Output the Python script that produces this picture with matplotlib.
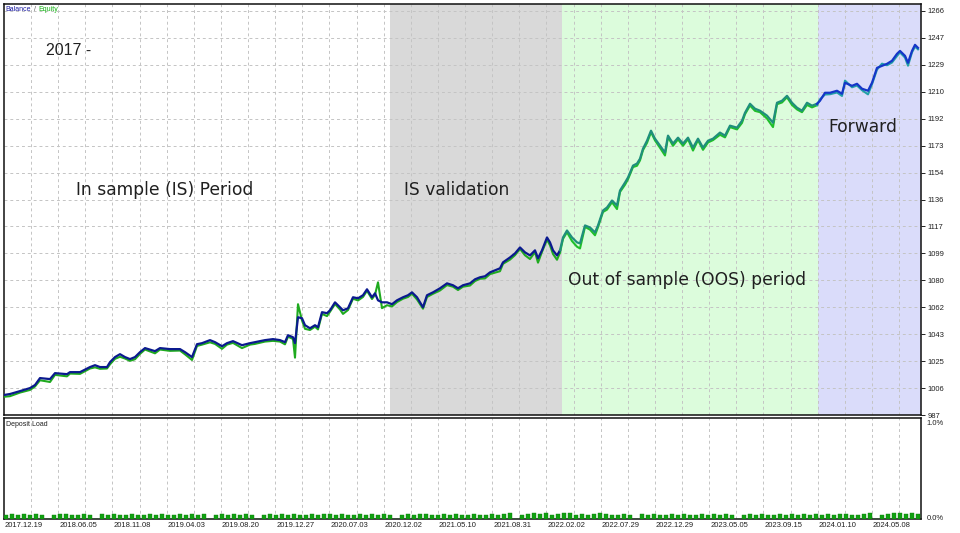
import numpy as np
import matplotlib
matplotlib.use("Agg")
import matplotlib.pyplot as plt
from matplotlib.transforms import ScaledTranslation

# balance curve (x = trade number)
trade_no = [0, 6, 16, 26, 31, 36, 46, 51, 63, 66,
            76, 86, 91, 96, 103, 106, 111, 116, 121, 126,
            131, 136, 141, 151, 156, 166, 176, 181, 188, 193,
            198, 206, 211, 218, 223, 229, 238, 246, 251, 261,
            269, 276, 281, 284, 289, 291, 294, 298, 301, 306,
            311, 314, 318, 323, 326, 331, 336, 339, 344, 349,
            354, 359, 363, 368, 371, 374, 378, 383, 388, 393,
            399, 404, 408, 413, 419, 423, 429, 436, 443, 449,
            454, 459, 466, 471, 476, 481, 486, 496, 499, 506,
            511, 516, 521, 526, 531, 534, 538, 543, 546, 549,
            553, 556, 559, 563, 568, 573, 576, 581, 586, 591,
            594, 599, 603, 608, 613, 616, 621, 624, 629, 633,
            636, 639, 643, 647, 651, 656, 661, 664, 669, 674,
            679, 684, 689, 694, 699, 704, 709, 716, 721, 726,
            733, 738, 741, 746, 751, 756, 763, 769, 773, 778,
            783, 788, 793, 798, 803, 808, 813, 816, 821, 826,
            833, 838, 841, 848, 853, 858, 864, 868, 873, 878,
            883, 888, 893, 896, 901, 904, 908, 911, 914]

balance = [1000.8, 1001.5, 1003.5, 1005.6, 1007.7, 1012.5, 1011.8, 1015.9, 1015.2, 1016.6,
           1016.6, 1020.1, 1021.4, 1020.1, 1020.1, 1023.5, 1027.0, 1029.0, 1027.0, 1025.6,
           1027.0, 1030.4, 1033.2, 1031.1, 1033.2, 1032.5, 1032.5, 1030.4, 1027.0, 1035.9,
           1036.6, 1038.7, 1037.3, 1034.5, 1036.6, 1038.0, 1035.2, 1036.6, 1037.3, 1038.7,
           1039.4, 1038.7, 1037.3, 1042.1, 1040.7, 1036.6, 1054.5, 1053.8, 1049.0, 1046.9,
           1049.0, 1047.6, 1058.0, 1057.3, 1059.3, 1064.8, 1061.4, 1059.3, 1060.7, 1068.3,
           1067.6, 1069.7, 1073.8, 1068.3, 1071.0, 1066.2, 1064.8, 1064.8, 1063.5, 1066.2,
           1068.3, 1069.7, 1071.7, 1068.3, 1061.4, 1069.7, 1071.7, 1074.5, 1077.9, 1076.6,
           1074.5, 1076.6, 1077.9, 1080.7, 1082.1, 1082.8, 1085.5, 1088.3, 1092.4, 1095.8,
           1098.6, 1102.7, 1099.3, 1097.2, 1100.7, 1095.2, 1100.7, 1109.6, 1106.2, 1100.7,
           1097.2, 1100.7, 1109.6, 1114.4, 1109.6, 1106.2, 1105.5, 1117.9, 1116.5, 1113.1,
           1117.9, 1128.2, 1130.3, 1135.1, 1131.7, 1142.0, 1147.5, 1151.0, 1159.2, 1160.6,
           1164.0, 1170.9, 1176.4, 1183.3, 1177.8, 1173.0, 1168.2, 1179.9, 1174.4, 1178.5,
           1174.4, 1178.5, 1171.6, 1177.8, 1171.6, 1176.4, 1177.8, 1182.0, 1179.9, 1186.8,
           1185.4, 1190.2, 1195.7, 1201.9, 1198.5, 1197.1, 1193.7, 1188.8, 1202.6, 1204.0,
           1207.4, 1202.6, 1199.2, 1197.1, 1202.6, 1200.6, 1201.9, 1204.0, 1209.5, 1209.5,
           1210.9, 1208.8, 1216.4, 1214.3, 1215.7, 1212.3, 1210.9, 1216.4, 1226.7, 1228.1,
           1229.5, 1231.6, 1236.4, 1238.4, 1235.0, 1230.2, 1238.4, 1242.6, 1240.5]

# equity minus balance (floating P/L) at the same trades
floating = [-1.2, -1.5, -1.0, -1.3, -1.0, -1.5, -2.0, -1.2, -1.5, -1.0,
            -1.2, -1.0, -1.5, -1.2, -1.0, -1.5, -1.2, -1.8, -1.0, -1.2,
            -1.5, -1.2, -1.0, -1.5, -1.0, -1.2, -1.0, -1.5, -2.0, -1.2,
            -1.0, -1.5, -1.2, -1.8, -1.0, -1.2, -2.0, -1.0, -1.2, -1.0,
            -1.2, -1.0, -1.5, -1.0, -1.2, -10.0, 9.0, -1.5, -2.5, -1.2,
            -1.0, -1.5, -1.2, -2.0, -1.0, -1.2, -1.5, -2.5, -1.2, -1.0,
            -1.5, -1.2, -1.0, -1.2, -1.0, 12.4, -4.0, -2.0, -1.5, -1.2,
            -1.0, -1.2, -1.0, -1.5, -1.0, -1.2, -1.0, -1.5, -1.2, -1.0,
            -1.2, -1.0, -1.5, -1.2, -1.0, -1.5, -1.2, -2.0, -1.0, -1.5,
            -1.2, -1.0, -2.0, -2.5, -1.2, -3.0, -1.0, -1.5, -2.0, -2.5,
            -3.0, -1.5, -1.0, -1.2, -2.5, -3.0, -3.5, -1.0, -1.5, -2.0,
            -1.2, -1.0, -1.5, -1.2, -2.5, -1.0, -1.5, -1.2, -1.0, -1.5,
            -1.2, -1.0, -1.5, -1.0, -1.2, -1.5, -2.0, -1.0, -1.5, -1.2,
            -1.5, -1.0, -2.0, -1.0, -1.5, -1.2, -1.0, -1.5, -1.2, -1.0,
            -1.2, -1.5, -1.0, -1.2, -1.5, -1.0, -2.0, -3.0, -1.0, -1.2,
            -1.0, -1.5, -1.2, -1.0, -1.5, -1.2, -1.0, 1.0, -1.2, -1.0,
            -1.2, -1.5, 1.5, -1.0, -1.2, -1.0, -2.5, -1.0, -1.2, 1.5,
            -1.0, -1.2, -1.5, -1.0, -1.2, -2.0, -1.0, -1.2, -1.0]

# deposit load in hundredths of a percent, one digit per bar
load_digits = ("4545454045" "5445405454" "4544545445" "4545045454" "5404545454"
               "4545545445" "4545404545" "5445454454" "4545604565" "6456645456"
               "5445405454" "4545445454" "5404545445" "4545454545" "5445604566"
               "565")

# period shading: (start trade, end trade, colour key)
periods = [(386, 558, "gray"), (558, 814, "green"), (814, 917, "blue")]
period_names = ["In sample (IS) Period", "IS validation",
                "Out of sample (OOS) period", "Forward"]

y_labels = ["987", "1006", "1025", "1043", "1062", "1080", "1099", "1117",
            "1136", "1154", "1173", "1192", "1210", "1229", "1247", "1266"]
date_labels = ["2017.12.19", "2018.06.05", "2018.11.08", "2019.04.03", "2019.08.20",
               "2019.12.27", "2020.07.03", "2020.12.02", "2021.05.10", "2021.08.31",
               "2022.02.02", "2022.07.29", "2022.12.29", "2023.05.05", "2023.09.15",
               "2024.01.10", "2024.05.08"]

x = np.array(trade_no, dtype=float)
bal = np.array(balance)
eq = bal + np.array(floating)
load = np.array([int(c) for c in load_digits]) / 100.0

fig = plt.figure(figsize=(9.6, 5.33), dpi=100)
ax = fig.add_axes([4/960, 1 - 415/533, 917/960, 411/533])
ax2 = fig.add_axes([4/960, 1 - 519/533, 917/960, 101/533])

XMAX = 917
YMIN, YMAX = 987, 1270.8
small = dict(family="Liberation Sans", fontsize=5.5, color="#202020")

span_colors = {"gray": "#d9d9d9", "green": "#dcfcdc", "blue": "#dadcfa"}
for s, e, c in periods:
    ax.axvspan(s, e, color=span_colors[c], zorder=0, lw=0)

# line colours change with the shaded region (as in the edited screenshot)
line_cols = [(0, 558, "#0b1a8e", "#1faa1f"),
             (558, 814, "#1f8f7c", "#1fbf2a"),
             (814, 917, "#1536c8", "#22a0a8")]
for s, e, bc, ec in line_cols:
    m = (x >= s) & (x <= e)
    idx = np.where(m)[0]
    if idx[0] > 0:
        idx = np.concatenate([[idx[0] - 1], idx])
    ax.plot(x[idx], eq[idx], color=ec, lw=1.5, zorder=3)
    ax.plot(x[idx], bal[idx], color=bc, lw=1.6, zorder=4)

yt = np.linspace(987, 1266, 16)
ax.set_ylim(YMIN, YMAX)
ax.set_xlim(0, XMAX)
ax.yaxis.tick_right()
ax.set_yticks(yt)
ax.set_yticklabels(y_labels, **small)
ax.tick_params(axis="y", length=3, width=0.6, pad=2)

grid_x = 27 + 27.125 * np.arange(33)
label_x = 20 + 54.25 * np.arange(len(date_labels))
for a in (ax, ax2):
    a.set_xlim(0, XMAX)
    a.set_xticks(grid_x, minor=True)
    a.grid(which="minor", axis="x", color="#c4c4c4", ls=(0, (3, 3)), lw=0.7, zorder=1)
    a.tick_params(axis="x", which="minor", length=0)
    for sp in a.spines.values():
        sp.set_linewidth(1.1)
        sp.set_color("#101010")
ax.grid(which="major", axis="y", color="#c4c4c4", ls=(0, (3, 3)), lw=0.7, zorder=1)
ax.set_xticks([])

ax.text(0.002, 0.995, "Balance", transform=ax.transAxes, family="Liberation Sans",
        fontsize=5, color="#1a1aa0", va="top", ha="left")
ax.text(0.033, 0.995, "/", transform=ax.transAxes, family="Liberation Sans",
        fontsize=5, color="#606060", va="top", ha="left")
ax.text(0.038, 0.995, "Equity", transform=ax.transAxes, family="Liberation Sans",
        fontsize=5, color="#10b010", va="top", ha="left")

ax.text(42, 1238.4, "2017 -", fontsize=11.5, family="Liberation Sans",
        color="#202020", va="center", ha="left")
name_pos = [(72, 1142.7), (400, 1142.7), (564, 1080.0), (824, 1186.1)]
for (px, py), name in zip(name_pos, period_names):
    ax.text(px, py, name, fontsize=12.3, color="#202020", va="center", ha="left", zorder=5)

# deposit load panel
bx = np.linspace(2, 914, len(load))
ax2.bar(bx, load, width=4.8, color="#10a010", edgecolor="#0a800a", lw=0.3, zorder=3)
ax2.set_ylim(0, 1.0)
ax2.yaxis.tick_right()
ax2.set_yticks([0, 1.0])
ax2.set_yticklabels(["0.0%", "1.0%"], **small)
ax2.tick_params(axis="y", length=0, pad=4)
top_lab = ax2.get_yticklabels()[1]
top_lab.set_va("top")
top_lab.set_transform(top_lab.get_transform() + ScaledTranslation(0, -2/100, fig.dpi_scale_trans))
ax2.get_yticklabels()[0].set_va("center")
ax2.set_xticks(label_x)
ax2.set_xticklabels(date_labels, **small)
ax2.tick_params(axis="x", which="major", length=0, pad=2)
ax2.text(0.002, 0.97, "Deposit Load", transform=ax2.transAxes, family="Liberation Sans",
         fontsize=5, color="#202020", va="top", ha="left")

fig.savefig("out.png", dpi=100)
